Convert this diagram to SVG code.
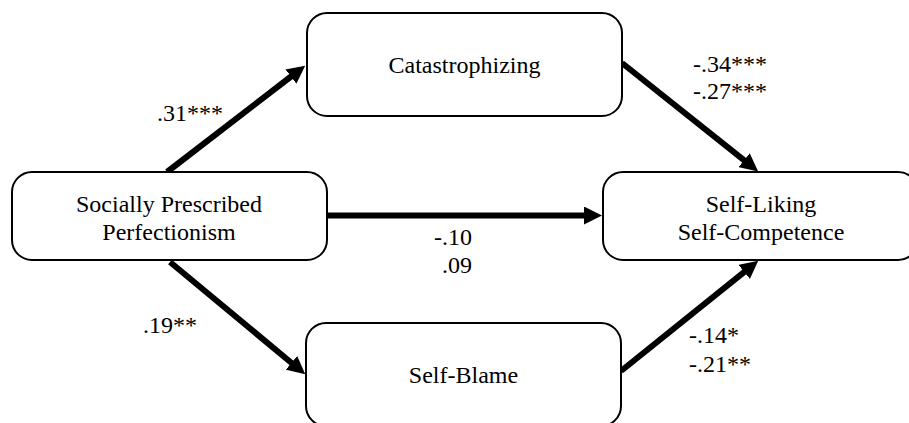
<svg xmlns="http://www.w3.org/2000/svg" width="909" height="423" viewBox="0 0 909 423">
<style>
.box{fill:#fff;stroke:#000;stroke-width:2}
text{font-family:'Liberation Serif','Times New Roman',serif;font-size:24px;fill:#000}
.c{text-anchor:middle}
.e{fill:none;stroke:#000;stroke-width:6}
</style>
<defs>
<marker id="ah" viewBox="0 -9 18 18" refX="1" refY="0" markerWidth="18" markerHeight="18" markerUnits="userSpaceOnUse" orient="auto">
<path d="M0,-9 L18,0 L0,9 z" fill="#000"/>
</marker>
</defs>
<rect width="909" height="423" fill="#fff"/>
<g id="connectors">
<line class="e" x1="167" y1="172" x2="291.7" y2="76" marker-end="url(#ah)"/>
<line class="e" x1="622" y1="63" x2="744.9" y2="160.8" marker-end="url(#ah)"/>
<line class="e" x1="327" y1="215.5" x2="585" y2="215.5" marker-end="url(#ah)"/>
<line class="e" x1="170" y1="262" x2="292.2" y2="363.5" marker-end="url(#ah)"/>
<line class="e" x1="621" y1="371" x2="745" y2="271.3" marker-end="url(#ah)"/>
<text x="157" y="121">.31***</text>
<text x="693" y="72">-.34***</text>
<text x="693" y="99">-.27***</text>
<text x="472" y="245" text-anchor="end">-.10</text>
<text x="472" y="273" text-anchor="end">.09</text>
<text x="143" y="333">.19**</text>
<text x="689" y="343">-.14*</text>
<text x="689" y="372">-.21**</text>
</g>
<g id="spp">
<rect class="box" x="12" y="172" width="315" height="88" rx="20"/>
<text class="c" x="169" y="212">Socially Prescribed</text>
<text class="c" x="169" y="240">Perfectionism</text>
</g>
<g id="catastrophizing">
<rect class="box" x="307" y="13" width="315" height="103" rx="20"/>
<text class="c" x="464.5" y="73">Catastrophizing</text>
</g>
<g id="selfblame">
<rect class="box" x="306" y="323" width="315" height="103" rx="20"/>
<text class="c" x="463.5" y="383">Self-Blame</text>
</g>
<g id="selfliking">
<rect class="box" x="603" y="172" width="315" height="88" rx="20"/>
<text class="c" x="761" y="212">Self-Liking</text>
<text class="c" x="761" y="240">Self-Competence</text>
</g>
</svg>
